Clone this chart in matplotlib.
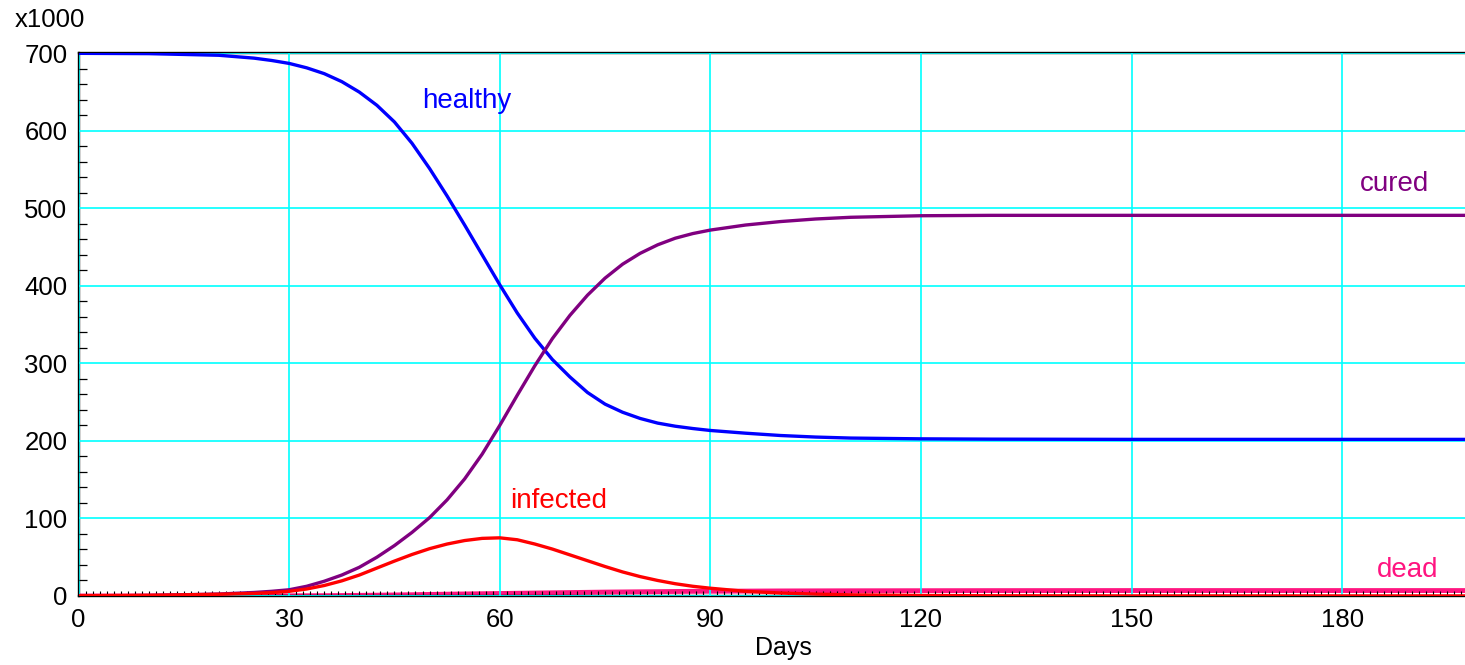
import matplotlib
matplotlib.use("Agg")
import matplotlib.pyplot as plt
from matplotlib.ticker import MultipleLocator

plt.rcParams['font.family'] = ['Liberation Sans', 'DejaVu Sans']

# Simulation output (values in thousands)
days = [0, 10, 20, 25, 27.5, 30, 32.5, 35, 37.5, 40, 42.5, 45, 47.5, 50, 52.5,
        55, 57.5, 60, 62.5, 65, 67.5, 70, 72.5, 75, 77.5, 80, 82.5, 85, 87.5,
        90, 95, 100, 105, 110, 120, 130, 150, 198]

healthy = [700, 699.6, 697.5, 693.8, 690.8, 687, 681.3, 673.8, 663.5, 650, 633,
           611.5, 584, 551.5, 516, 478.5, 440, 401.5, 365, 332.5, 305, 282.5,
           262.5, 247.5, 237, 229, 223, 219, 216, 213.5, 210, 207, 205, 203.7,
           202.7, 202.3, 202, 202]

cured = [0, 0.6, 2.5, 4.5, 6, 8, 12.5, 19, 27, 37, 50, 65, 82, 101, 124, 151,
         183, 220, 259, 297, 332, 362, 388, 410, 428, 442, 453, 461.5, 467.5,
         472, 478.5, 483, 486.3, 488.5, 490.5, 491, 491, 491]

infected = [0.3, 0.8, 2.2, 3.3, 4.3, 6, 9, 13.5, 19.5, 27, 36, 45, 53.5, 61, 67,
            71.5, 74.3, 75, 72.5, 67, 60.5, 53, 45.5, 38, 31, 25, 20, 15.8, 12.5,
            10, 6, 3.8, 2.4, 1.5, 0.6, 0.25, 0.05, 0]

dead = [0, 0, 0.05, 0.1, 0.15, 0.2, 0.3, 0.4, 0.6, 0.8, 1.0, 1.3, 1.6, 2.0,
        2.3, 2.6, 2.9, 3.2, 3.5, 3.8, 4.1, 4.4, 4.7, 5.0, 5.2, 5.4, 5.6, 5.8,
        6.0, 6.1, 6.3, 6.5, 6.6, 6.7, 6.8, 6.9, 7, 7]

fig = plt.figure(figsize=(14.65, 6.65), dpi=100)
ax = fig.add_axes([0.0536, 0.1038, 1 - 0.0536, 0.816])

line_kw = dict(solid_joinstyle='round', solid_capstyle='round')
ax.plot(days, healthy, color='#0000ff', lw=2.4, zorder=3, **line_kw)
ax.plot(days, cured, color='#800080', lw=2.4, zorder=3, **line_kw)
ax.plot(days, infected, color='#ff0000', lw=2.4, zorder=3, **line_kw)
ax.plot(days, dead, color='#ff1480', lw=3.5, zorder=2, **line_kw)

# curve labels
ax.text(49, 638, 'healthy', color='#0000ff', fontsize=20, va='center')
ax.text(182.5, 531, 'cured', color='#800080', fontsize=20, va='center')
ax.text(61.5, 122, 'infected', color='#ff0000', fontsize=20, va='center')
ax.text(185, 34, 'dead', color='#ff1480', fontsize=20, va='center')

ax.set_xlim(0, 197.5)
ax.set_ylim(0, 700)
ax.xaxis.set_major_locator(MultipleLocator(30))
ax.xaxis.set_minor_locator(MultipleLocator(1))
ax.yaxis.set_major_locator(MultipleLocator(100))
ax.yaxis.set_minor_locator(MultipleLocator(20))

ax.set_axisbelow(False)
ax.grid(True, which='major', color='#00ffff', lw=1.2)
ax.tick_params(which='major', length=0, labelsize=18.5)
ax.tick_params(axis='x', which='major', pad=9)
ax.tick_params(axis='y', which='major', pad=8)
ax.tick_params(axis='x', which='minor', direction='in', length=3.5, width=0.8)
ax.tick_params(axis='y', which='minor', direction='in', length=5.5, width=0.9)

for side in ['left', 'bottom', 'top']:
    ax.spines[side].set_linewidth(1.7)
    ax.spines[side].set_color('black')
ax.spines['right'].set_visible(False)

fig.text(15 / 1465, 1 - 20 / 665, 'x1000', fontsize=18.5, va='center', ha='left')
fig.text(783 / 1465, 1 - 648 / 665, 'Days', fontsize=18, va='center', ha='center')

fig.savefig('out.png', dpi=100)
